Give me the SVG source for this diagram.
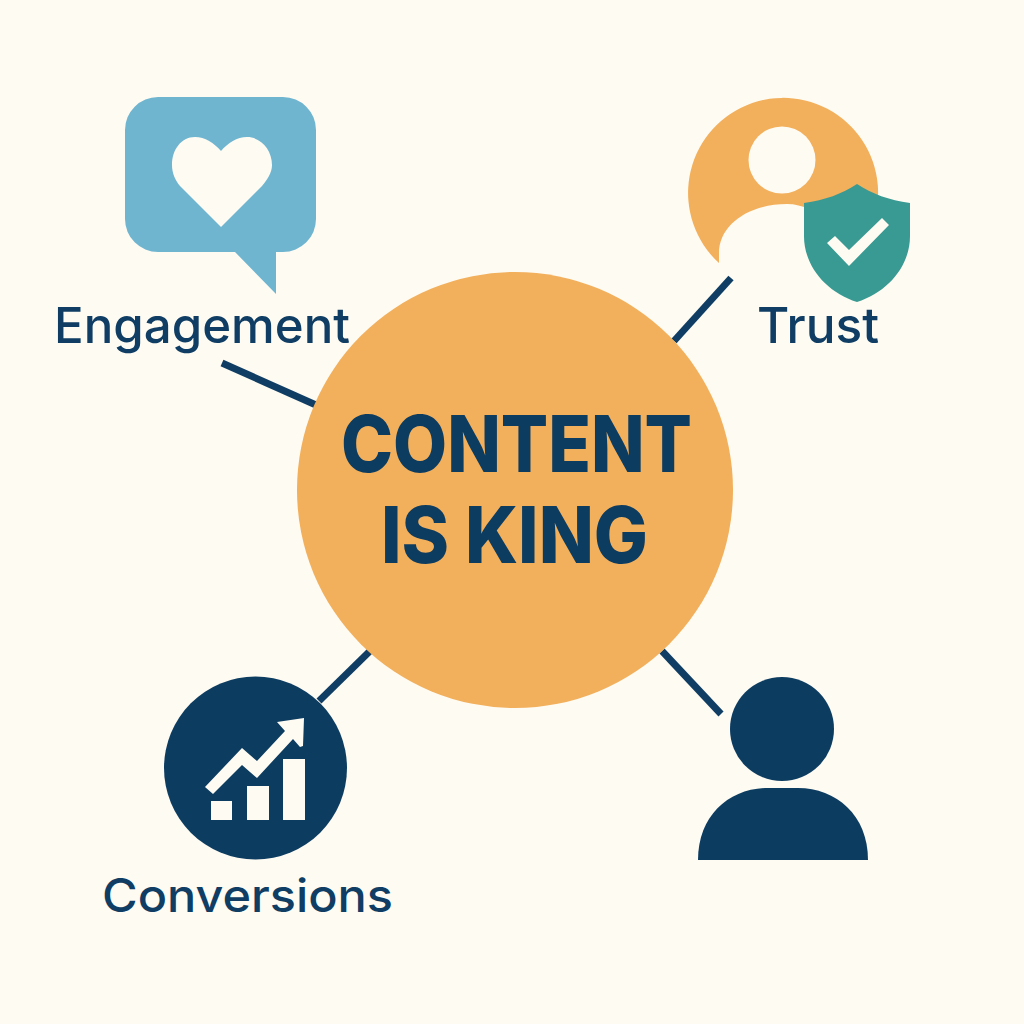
<svg xmlns="http://www.w3.org/2000/svg" width="1024" height="1024" viewBox="0 0 1024 1024">
<style>
.t{font-family:"Inter","Liberation Sans",sans-serif;fill:#0f3d63;font-weight:500}
.h{font-family:"Inter","Liberation Sans",sans-serif;fill:#0d3c61;font-weight:800;font-size:79px}
.c{stroke:#0f3d63;stroke-width:7;fill:none}
.n{fill:#0d3c61}
.b{fill:#fefbf2}
.o{fill:#f2af5c}
</style>
<rect width="1024" height="1024" fill="#fefbf2"/>
<g id="connectors">
<line class="c" x1="222" y1="363" x2="316" y2="405"/>
<line class="c" x1="731" y1="278" x2="674" y2="341"/>
<line class="c" x1="370" y1="651" x2="319" y2="701"/>
<line class="c" x1="662" y1="651" x2="721" y2="714"/>
</g>
<g id="node-center">
<circle class="o" cx="515" cy="490" r="218"/>
<text class="h" x="341" y="472" textLength="351" lengthAdjust="spacingAndGlyphs">CONTENT</text>
<text class="h" x="381" y="563" textLength="267" lengthAdjust="spacingAndGlyphs">IS KING</text>
</g>
<g id="node-engagement">
<path fill="#70b5d0" d="M158 97H283A33 33 0 0 1 316 130V219A33 33 0 0 1 283 252H276V294L235 252H158A33 33 0 0 1 125 219V130A33 33 0 0 1 158 97Z"/>
<path class="b" d="M221 151C214 143 205 137 195 137C181 137 172 150 172 165C172 173 175 180 180 186L221 227L262 186C267 180 272 173 272 165C272 150 261 137 247 137C237 137 228 143 221 151Z"/>
<text class="t" x="54" y="343" font-size="49" textLength="296" lengthAdjust="spacingAndGlyphs">Engagement</text>
</g>
<g id="node-trust">
<path class="o" d="M719 263A95 95 0 1 1 878 197L856 215L810 209C802 206 795 204 787 204C748 204 719 225 719 253Z"/>
<circle class="b" cx="782" cy="160" r="33.500"/>
<path fill="#389a92" d="M857 184C842 194 825 200 804 203V236C804 266 826 292 857 302C888 292 910 266 910 236V203C889 200 872 194 857 184Z"/>
<path class="b" d="M827 243L835 236L849 250L882 218L889 225L849 266Z"/>
<text class="t" x="757" y="343" font-size="49" textLength="122" lengthAdjust="spacingAndGlyphs">Trust</text>
</g>
<g id="node-conversions">
<circle class="n" cx="255.500" cy="768" r="91.500"/>
<rect class="b" x="211" y="801" width="21" height="19"/>
<rect class="b" x="247" y="786" width="22" height="34"/>
<rect class="b" x="283" y="759" width="22" height="61"/>
<path class="b" d="M205 787L242 748L257 761L285 731L277 722L304 718L303 746L300 747L293 739L257 778L242 765L213 794Z"/>
<text class="t" x="102" y="912" font-size="46" textLength="291" lengthAdjust="spacingAndGlyphs">Conversions</text>
</g>
<g id="node-person">
<circle class="n" cx="782" cy="729" r="52"/>
<path class="n" d="M698 860C698 815 730 788 768 788H798C836 788 868 815 868 860Z"/>
</g>
</svg>
